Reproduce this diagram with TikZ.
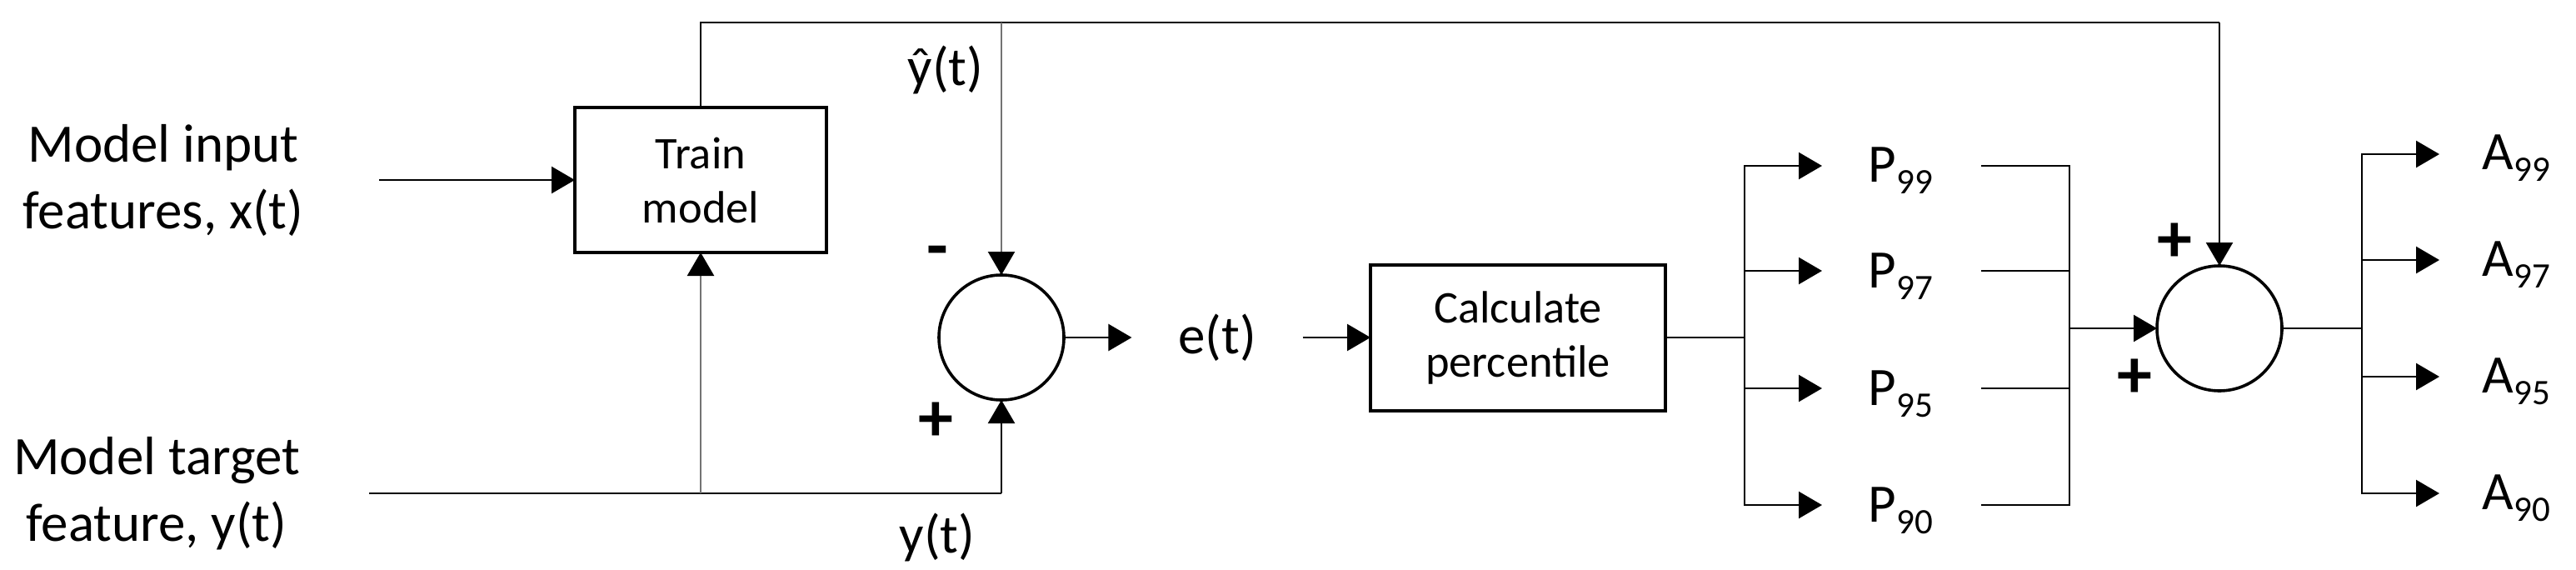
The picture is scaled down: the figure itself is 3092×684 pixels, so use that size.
\documentclass[tikz,border=0pt]{standalone}
\usepackage{fontspec}
\setmainfont{Carlito}
\usetikzlibrary{arrows.meta}
\newcommand{\lowsub}[1]{\raisebox{-3.5pt}{\fontsize{10.75pt}{11pt}\selectfont #1}}
\begin{document}
\begin{tikzpicture}[x=0.25pt,y=-0.25pt,
  ln/.style={line width=0.62pt, draw=black},
  gln/.style={line width=0.62pt, draw=black!55},
  tip/.style={-{Triangle[length=7pt,width=8pt,color=black,fill=black]}},
  arr/.style={ln,tip},
  garr/.style={gln,tip},
  box/.style={draw, line width=1pt, inner sep=0pt, outer sep=0pt, align=center,
    font=\fontsize{13.6pt}{16.25pt}\selectfont},
  sum/.style={draw, circle, line width=0.9pt, minimum size=37.5pt, inner sep=0pt, outer sep=0pt},
  bigtxt/.style={inner sep=0pt, font=\fontsize{16.25pt}{20pt}\selectfont},
  sign/.style={inner sep=0pt, font=\fontsize{21pt}{21pt}\selectfont\bfseries},
]
\useasboundingbox (0,0) rectangle (3092,684);

% blocks
\node[box, minimum width=75.5pt, minimum height=43.5pt] (train) at (841,216) {Train\\model};
\node[box, minimum width=88.5pt, minimum height=43.75pt] (calc) at (1822,405) {Calculate\\percentile};
\node[sum] (s1) at (1202,405) {};
\node[sum] (s2) at (2664,394) {};

% left texts
\node[bigtxt, align=center] (xin) at (196,216) {Model input\\features, x(t)};
\node[bigtxt, align=center] (yin) at (188,592) {Model target\\feature, y(t)};

% signal labels
\node[bigtxt] (yhat) at (1135,84) {ŷ(t)};
\node[bigtxt] (ylab) at (1125,645) {y(t)};
\node[bigtxt, inner xsep=13.75pt] (et) at (1461,405) {e(t)};
\node[sign] (m1) at (1125,309) {-};
\node[sign] (p1) at (1123,506) {+};
\node[sign] (p2) at (2610,291) {+};
\node[sign] (p3) at (2562,454) {+};

% coordinates
\coordinate (xs) at (455,216);
\coordinate (ys) at (443,592);
\coordinate (yt) at (841,592);
\coordinate (yb) at (1202,592);
\coordinate (t1) at (841,27);
\coordinate (t3) at (1202,27);
\coordinate (t2) at (2664,27);
\coordinate (b1) at (2094,405);
\coordinate (b2) at (2835,394);
\coordinate (mg) at (2484,394);
\coordinate (pt99) at (2187,199);
\coordinate (pt97) at (2187,325);
\coordinate (pt95) at (2187,466);
\coordinate (pt90) at (2187,606);
\coordinate (q99) at (2378,199);
\coordinate (q97) at (2378,325);
\coordinate (q95) at (2378,466);
\coordinate (q90) at (2378,606);
\coordinate (at99) at (2928,185);
\coordinate (at97) at (2928,312);
\coordinate (at95) at (2928,452);
\coordinate (at90) at (2928,592);

% percentile and alarm labels
\node[bigtxt, anchor=base west] (P99) at (2242,219) {P\lowsub{99}};
\node[bigtxt, anchor=base west] (P97) at (2242,345) {P\lowsub{97}};
\node[bigtxt, anchor=base west] (P95) at (2242,486) {P\lowsub{95}};
\node[bigtxt, anchor=base west] (P90) at (2242,626) {P\lowsub{90}};
\node[bigtxt, anchor=base west] (A99) at (2979,204) {A\lowsub{99}};
\node[bigtxt, anchor=base west] (A97) at (2979,331) {A\lowsub{97}};
\node[bigtxt, anchor=base west] (A95) at (2979,471) {A\lowsub{95}};
\node[bigtxt, anchor=base west] (A90) at (2979,611) {A\lowsub{90}};

% connectors
\draw[arr] (xs) -- (train.west);
\draw[ln] (ys) -- (yb);
\draw[arr] (yb) -- (s1.south);
\draw[garr] (yt) -- (train.south);
\draw[ln] (train.north) -- (t1) -- (t2);
\draw[garr] (t3) -- (s1.north);
\draw[arr] (t2) -- (s2.north);
\draw[arr] (s1.east) -- (et.west);
\draw[arr] (et.east) -- (calc.west);
\draw[ln] (calc.east) -- (b1);
\draw[arr] (b1) |- (pt99);
\draw[arr] (b1) |- (pt97);
\draw[arr] (b1) |- (pt95);
\draw[arr] (b1) |- (pt90);
\draw[ln] (q99) -| (mg);
\draw[ln] (q97) -| (mg);
\draw[ln] (q95) -| (mg);
\draw[ln] (q90) -| (mg);
\draw[arr] (mg) -- (s2.west);
\draw[ln] (s2.east) -- (b2);
\draw[arr] (b2) |- (at99);
\draw[arr] (b2) |- (at97);
\draw[arr] (b2) |- (at95);
\draw[arr] (b2) |- (at90);
\end{tikzpicture}
\end{document}
